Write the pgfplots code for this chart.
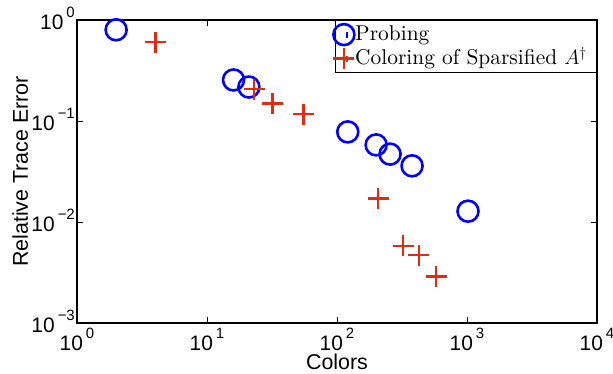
\documentclass[border=0pt]{standalone}
\usepackage{fontspec}
\setsansfont{Liberation Sans}
\newfontfamily\legendfont{lmroman10-regular.otf}
\usepackage{pgfplots}
\pgfplotsset{compat=1.18}

\definecolor{probeblue}{RGB}{0,0,255}
\definecolor{colorred}{RGB}{226,42,14}

% power-of-ten tick label with a raised exponent
\newcommand\pow[1]{10\hspace{3bp}\raisebox{12.5bp}{\fontsize{15}{15}\selectfont #1}}

\begin{document}
\begin{tikzpicture}
\path[use as bounding box] (-77bp,-51bp) rectangle (536bp,323bp);
\begin{axis}[
  at={(0,0)}, anchor=south west,
  scale only axis,
  width=520bp, height=303bp,
  xmode=log, ymode=log,
  log basis x=10, log basis y=10,
  xmin=1, xmax=10000,
  ymin=0.001, ymax=1,
  axis line style={line width=1.2bp},
  tick style={line width=0.6bp, black},
  tick align=inside,
  major tick length=6bp,
  minor tick length=3.5bp,
  xtick={1,10,100,1000,10000},
  xticklabels={\pow{0},\pow{1},\pow{2},\pow{3},\pow{4}},
  ytick={0.001,0.01,0.1,1},
  yticklabels={\pow{−3},\pow{−2},\pow{−1},\pow{0}},
  ticklabel style={font=\sffamily\fontsize{21}{24}\selectfont, inner sep=0pt},
  xticklabel style={anchor=base, yshift=-27.5bp},
  yticklabel style={anchor=base east, xshift=-2bp, yshift=-9.5bp},
  label style={font=\sffamily\fontsize{21.5}{24}\selectfont, inner sep=0pt},
  xlabel={Colors},
  ylabel={Relative Trace Error},
  xlabel style={at={(axis description cs:0.5,0)}, anchor=base, yshift=-46bp},
  ylabel style={at={(axis description cs:0,0.5)}, anchor=base, yshift=49bp},
  legend cell align=left,
  legend style={
    at={(1,1)}, anchor=north east,
    font=\legendfont\fontsize{21.5}{24}\selectfont,
    draw=black, line width=1.2bp,
    inner xsep=10bp, inner ysep=4bp,
    row sep=4bp,
    nodes={inner sep=0bp, text height=16bp, text depth=4bp},
    /tikz/every odd column/.style={column sep=7bp},
  },
  legimg/.style={
    legend image code/.code={
      \draw[##1, overlay] plot coordinates {(-3bp,0bp)};
      \path (0bp,-3bp) -- (0bp,3bp);
    }
  },
]
\addplot[only marks, mark=o, mark size=10.5bp, line width=2.6bp, color=probeblue, legimg]
  coordinates {
    (2,0.80) (16,0.255) (21,0.217) (121,0.078) (200,0.058)
    (256,0.047) (378,0.036) (1018,0.0128)
  };
\addlegendentry{Probing}
\addplot[only marks, mark=+, mark size=10.5bp, line width=2.6bp, color=colorred, legimg]
  coordinates {
    (4,0.605) (23,0.207) (32,0.150) (55,0.117) (207,0.017)
    (322,0.0058) (427,0.0047) (578,0.0029)
  };
\addlegendentry{Coloring of Sparsified $A^\dagger$}
\end{axis}
\end{tikzpicture}
\end{document}
